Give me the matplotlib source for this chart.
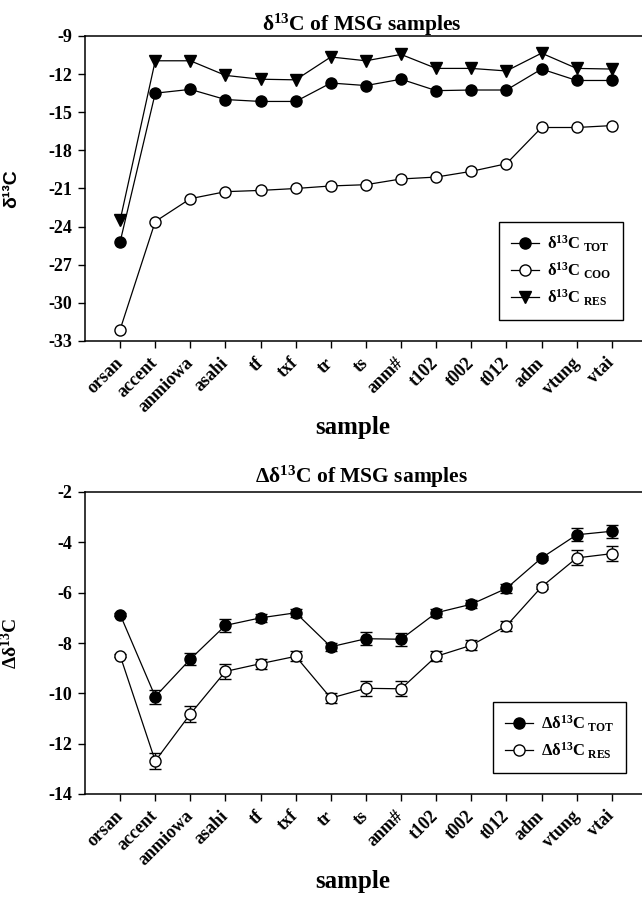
import matplotlib
matplotlib.use("Agg")
import matplotlib.pyplot as plt

plt.rcParams['font.family'] = ['Liberation Serif', 'DejaVu Serif']
plt.rcParams['mathtext.fontset'] = 'custom'
plt.rcParams['mathtext.rm'] = 'Liberation Serif:bold'
plt.rcParams['mathtext.bf'] = 'Liberation Serif:bold'
plt.rcParams['mathtext.it'] = 'Liberation Serif:bold'

samples = ['orsan', 'accent', 'anmiowa', 'asahi', 'tf', 'txf', 'tr', 'ts',
           'anm#', 't102', 't002', 't012', 'adm', 'vtung', 'vtai']

# delta13C values (top panel)
d13c_tot = [-25.2, -13.5, -13.2, -14.0, -14.15, -14.15, -12.7, -12.9, -12.4,
            -13.3, -13.25, -13.25, -11.6, -12.5, -12.5]
d13c_coo = [-32.1, -23.6, -21.8, -21.25, -21.15, -21.0, -20.8, -20.7, -20.25,
            -20.1, -19.65, -19.05, -16.2, -16.2, -16.05]
d13c_res = [-23.5, -10.95, -10.95, -12.1, -12.4, -12.45, -10.65, -10.95, -10.45,
            -11.55, -11.55, -11.75, -10.35, -11.55, -11.6]

# Delta delta13C values (bottom panel) with error bars
dd_tot = [-6.87, -10.13, -8.64, -7.3, -7.0, -6.8, -8.15, -7.83, -7.85,
          -6.8, -6.46, -5.83, -4.62, -3.7, -3.56]
dd_tot_err = [0.05, 0.28, 0.25, 0.25, 0.17, 0.17, 0.15, 0.25, 0.25,
              0.15, 0.15, 0.17, 0.08, 0.25, 0.25]
dd_res = [-8.5, -12.69, -10.82, -9.13, -8.82, -8.53, -10.19, -9.8, -9.82,
          -8.53, -8.09, -7.32, -5.77, -4.62, -4.45]
dd_res_err = [0.05, 0.3, 0.3, 0.3, 0.2, 0.2, 0.2, 0.3, 0.3,
              0.2, 0.2, 0.2, 0.1, 0.3, 0.3]

x = list(range(len(samples)))


def style_axes(ax, yticks):
    ax.spines['right'].set_visible(False)
    for s in ['left', 'bottom', 'top']:
        ax.spines[s].set_linewidth(1.1)
    ax.set_xlim(-1.0, 14.86)
    ax.set_xticks(x)
    ax.set_xticklabels(samples, rotation=45, ha='right', va='center',
                       rotation_mode='anchor', fontsize=13, fontweight='bold')
    ax.set_yticks(yticks)
    ax.set_yticklabels([str(t) for t in yticks], fontsize=13, fontweight='bold')
    ax.tick_params(axis='x', direction='out', length=5, width=1.0, pad=9)
    ax.tick_params(axis='y', direction='out', length=5, width=1.0, pad=4)
    ax.tick_params(top=False, right=False)


def add_legend(ax, handles, labels, anchor):
    leg = ax.legend(handles, labels, loc='upper left', bbox_to_anchor=anchor,
                    borderaxespad=0, prop={'size': 12, 'weight': 'bold'},
                    frameon=True, fancybox=False, edgecolor='black',
                    framealpha=1, handlelength=1.7, handletextpad=0.5,
                    borderpad=0.7, labelspacing=0.4)
    leg.get_frame().set_linewidth(1.0)


fig = plt.figure(figsize=(6.42, 9.01), dpi=100)

# top panel: axes from x=85 to 642 px, y=36 to 341 px
ax1 = fig.add_axes([85 / 642, 1 - 341 / 901, 557 / 642, 305 / 901])
l1, = ax1.plot(x, d13c_tot, '-o', color='black', mfc='black', mec='black',
               ms=8, lw=0.9)
l2, = ax1.plot(x, d13c_coo, '-o', color='black', mfc='white', mec='black',
               ms=8, lw=0.9)
l3, = ax1.plot(x, d13c_res, '-v', color='black', mfc='black', mec='black',
               ms=8, lw=0.9)
ax1.set_ylim(-33, -9)
style_axes(ax1, [-33, -30, -27, -24, -21, -18, -15, -12, -9])
ax1.set_ylabel('δ¹³C', fontsize=14, fontweight='bold',
               fontfamily='Liberation Sans')
ax1.yaxis.set_label_coords(-0.117, 0.5)
ax1.text(0.497, 1.036, r'δ$^{13}$C of MSG samples', transform=ax1.transAxes,
         ha='center', va='center', fontsize=15.5, fontweight='bold')
ax1.text(0.48, -0.285, 'sample', transform=ax1.transAxes, ha='center',
         va='center', fontsize=18, fontweight='bold')
add_legend(ax1, [l1, l2, l3],
           [r'δ$^{13}$C$_{\ \mathrm{TOT}}$', r'δ$^{13}$C$_{\ \mathrm{COO}}$',
            r'δ$^{13}$C$_{\ \mathrm{RES}}$'],
           ((499 - 85) / 557, (341 - 222) / 305))

# bottom panel: axes from x=85 to 642 px, y=492 to 794 px
ax2 = fig.add_axes([85 / 642, 1 - 794 / 901, 557 / 642, 302 / 901])
e1 = ax2.errorbar(x, dd_tot, yerr=dd_tot_err, fmt='-o', color='black',
                  mfc='black', mec='black', ms=8, lw=0.9, capsize=4,
                  elinewidth=1.0, capthick=1.0)
e2 = ax2.errorbar(x, dd_res, yerr=dd_res_err, fmt='-o', color='black',
                  mfc='white', mec='black', ms=8, lw=0.9, capsize=4,
                  elinewidth=1.0, capthick=1.0)
ax2.set_ylim(-14, -2)
style_axes(ax2, [-14, -12, -10, -8, -6, -4, -2])
ax2.set_ylabel(r'Δδ$^{13}$C', fontsize=14, fontweight='bold')
ax2.yaxis.set_label_coords(-0.115, 0.5)
ax2.text(0.497, 1.05, r'Δδ$^{13}$C of MSG samples', transform=ax2.transAxes,
         ha='center', va='center', fontsize=15.5, fontweight='bold')
ax2.text(0.48, -0.291, 'sample', transform=ax2.transAxes, ha='center',
         va='center', fontsize=18, fontweight='bold')
add_legend(ax2, [e1[0], e2[0]],
           [r'Δδ$^{13}$C$_{\ \mathrm{TOT}}$', r'Δδ$^{13}$C$_{\ \mathrm{RES}}$'],
           ((493 - 85) / 557, (794 - 702) / 302))

fig.savefig('out.png', dpi=100)
